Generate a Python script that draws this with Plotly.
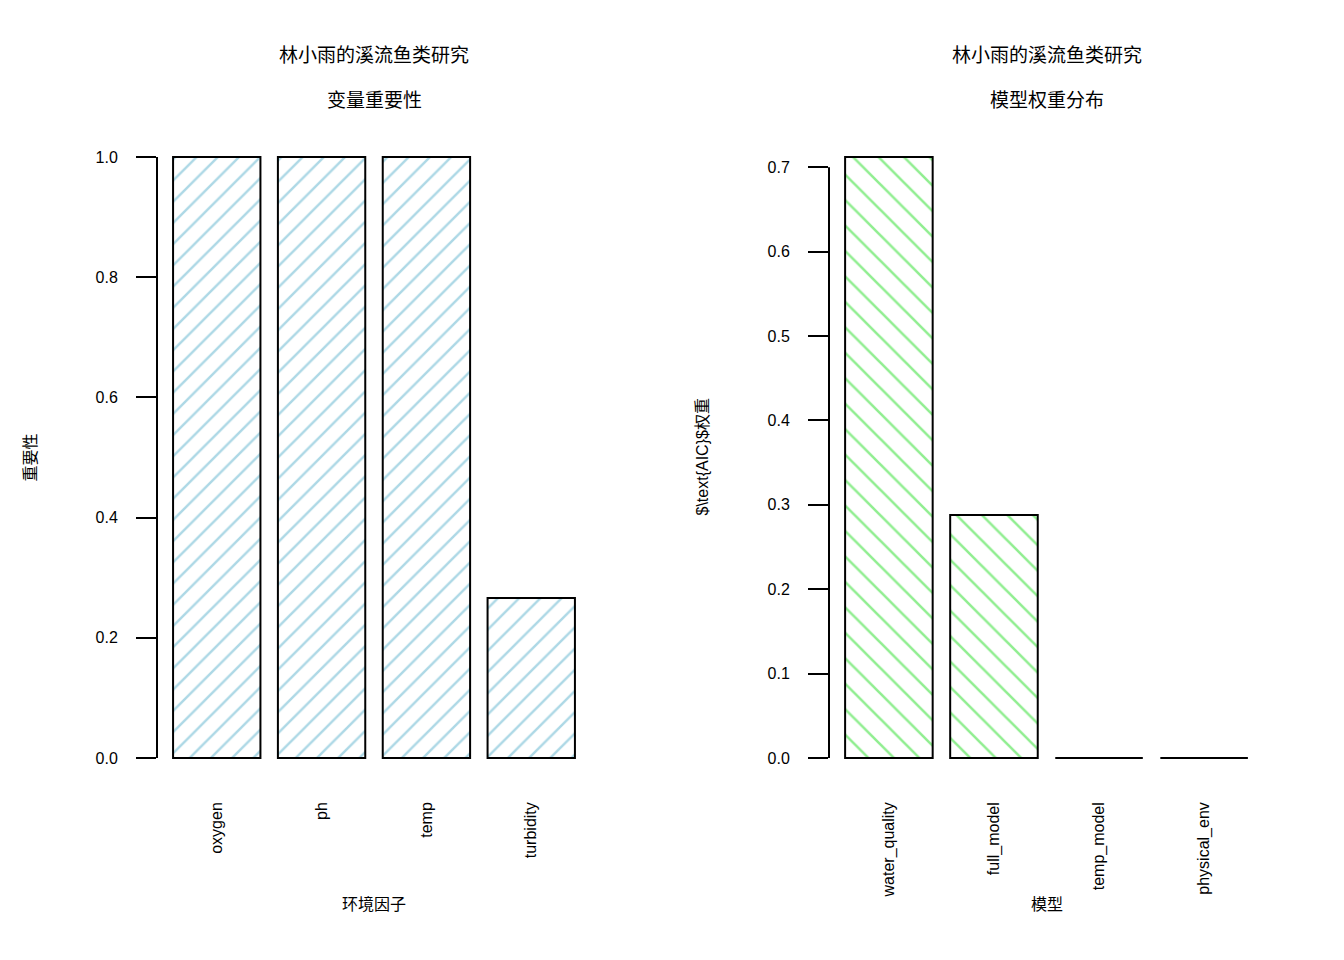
import plotly.graph_objects as go
from plotly.subplots import make_subplots

# data
factors = ["oxygen", "ph", "temp", "turbidity"]
importance = [1.0, 1.0, 1.0, 0.266]

models = ["water_quality", "full_model", "temp_model", "physical_env"]
aic_weights = [0.712, 0.288, 0.0, 0.0]

main_title = "林小雨的溪流鱼类研究"
left_sub = "变量重要性"
right_sub = "模型权重分布"

FONT = "Liberation Sans, Arial, Noto Sans CJK SC, sans-serif"
OFF = 8  # page body margin
W, H = 1344 - OFF, 960 - OFF


def px(x):
    return (x - OFF) / W


def py(y):
    return 1 - (y - OFF) / H


fig = make_subplots(rows=1, cols=2)

fig.add_trace(
    go.Bar(
        x=factors,
        y=importance,
        width=1 / 1.2,
        marker=dict(
            color="white",
            line=dict(color="black", width=2),
            pattern=dict(shape="/", fgcolor="#ADD8E6", fgopacity=1, bgcolor="white",
                         size=15, solidity=0.16),
        ),
        showlegend=False,
    ),
    row=1, col=1,
)
fig.add_trace(
    go.Bar(
        x=models,
        y=aic_weights,
        width=1 / 1.2,
        marker=dict(
            color="white",
            line=dict(color="black", width=2),
            pattern=dict(shape="\\", fgcolor="#90EE90", fgopacity=1, bgcolor="white",
                         size=18, solidity=0.14),
        ),
        showlegend=False,
    ),
    row=1, col=2,
)

# plot regions (R-style, 4% padding around the bars)
ydom = [py(782), py(133)]
left_dom = [px(157), px(591)]
right_dom = [px(829), px(1264)]

ymax_l = max(importance)
ymax_r = max(aic_weights)
left_ticks = [0, 0.2, 0.4, 0.6, 0.8, 1.0]
right_ticks = [0, 0.1, 0.2, 0.3, 0.4, 0.5, 0.6, 0.7]

xcommon = dict(
    type="category", range=[-0.57, 3.57], showline=False, showgrid=False,
    zeroline=False, ticks="", tickangle=-90, ticklabelstandoff=16,
    tickfont=dict(family=FONT, size=16, color="black"),
)
ycommon = dict(
    showline=False, showgrid=False, zeroline=False, ticks="outside",
    ticklen=20, tickwidth=2, tickcolor="black", tickformat=".1f",
    ticklabelstandoff=15, tickfont=dict(family=FONT, size=16, color="black"),
)

fig.update_xaxes(domain=left_dom, **xcommon, row=1, col=1)
fig.update_xaxes(domain=right_dom, **xcommon, row=1, col=2)
fig.update_yaxes(domain=ydom, range=[-0.04 * ymax_l, 1.04 * ymax_l], tickvals=left_ticks, **ycommon, row=1, col=1)
fig.update_yaxes(domain=ydom, range=[-0.04 * ymax_r, 1.04 * ymax_r], tickvals=right_ticks, **ycommon, row=1, col=2)

# y axis lines only spanning the ticks, like base R
fig.add_shape(type="line", xref="x domain", yref="y", x0=0, x1=0, y0=left_ticks[0], y1=left_ticks[-1],
              line=dict(color="black", width=2))
fig.add_shape(type="line", xref="x2 domain", yref="y2", x0=0, x1=0, y0=right_ticks[0], y1=right_ticks[-1],
              line=dict(color="black", width=2))

lc = (left_dom[0] + left_dom[1]) / 2
rc = (right_dom[0] + right_dom[1]) / 2
mid_y = (ydom[0] + ydom[1]) / 2


def txt(text, x, y, size, angle=0):
    fig.add_annotation(text=text, x=x, y=y, xref="paper", yref="paper", showarrow=False,
                       xanchor="center", yanchor="middle", textangle=angle,
                       font=dict(family=FONT, size=size, color="black"))


txt(main_title, lc, py(55), 19)
txt(left_sub, lc, py(101), 19)
txt(main_title, rc, py(55), 19)
txt(right_sub, rc, py(101), 19)
txt("环境因子", lc, py(904), 16)
txt("模型", rc, py(904), 16)
txt("重要性", px(30), mid_y, 16, -90)
txt("&#36;\\text{AIC}&#36;权重", px(702), mid_y, 16, -90)

fig.update_layout(
    width=W, height=H, margin=dict(l=0, r=0, t=0, b=0),
    plot_bgcolor="white", paper_bgcolor="white",
    font=dict(family=FONT, color="black"),
)

fig.write_html("out.html")
